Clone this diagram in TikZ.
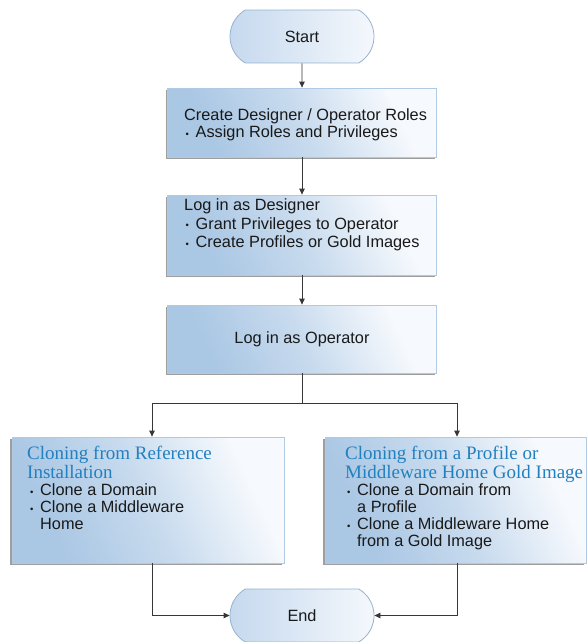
\documentclass[tikz,border=0pt]{standalone}
\usepackage{fontspec}
\setmainfont{Liberation Sans}
\newfontfamily\headfont{Liberation Serif}
\usetikzlibrary{arrows.meta,shapes.misc,shadows}

\definecolor{boxdark}{RGB}{170,199,228}
\definecolor{boxlight}{RGB}{246,249,253}
\definecolor{boxedge}{RGB}{176,202,228}
\definecolor{termdark}{RGB}{196,216,238}
\definecolor{termlight}{RGB}{246,249,253}
\definecolor{termedge}{RGB}{150,178,206}
\definecolor{headblue}{RGB}{35,128,190}
\definecolor{ink}{RGB}{25,25,25}
\definecolor{wire}{RGB}{55,55,55}

% soft fill of the step boxes: blue at the lower left fading to near white
\pgfdeclarehorizontalshading{stepfade}{100bp}{%
  color(0bp)=(boxdark); color(28bp)=(boxdark); color(50bp)=(boxdark!60!boxlight);
  color(72bp)=(boxlight); color(100bp)=(boxlight)}

% small list bullet followed by the indent of the item text
\newcommand{\itembul}{\makebox[11.5pt][l]{\hspace{1.5pt}\raisebox{0.8pt}{\fontsize{9.5}{9.5}\selectfont\textbullet}}}

\tikzset{
  stepbox/.style={draw=boxedge, line width=0.8pt, inner sep=0pt,
    shading=stepfade, shading angle=25,
    general shadow={shadow xshift=-1.6pt, shadow yshift=-1.6pt, fill=black!38}},
  termbox/.style={rounded rectangle, rounded rectangle arc length=120,
    draw=termedge, line width=0.8pt, left color=termdark, right color=termlight,
    minimum width=144pt, minimum height=53pt, inner sep=0pt,
    font=\fontsize{16.3}{18}\selectfont, text=ink},
  bodytext/.style={anchor=north west, inner sep=0pt, align=left, text=ink,
    font=\fontsize{16.3}{17}\selectfont},
  headtext/.style={anchor=north west, inner sep=0pt, align=left, text=headblue,
    font=\headfont\fontsize{19}{19}\selectfont},
  flow/.style={draw=wire, line width=0.8pt, -{Triangle[length=6pt,width=5.5pt]}},
  flowplain/.style={draw=wire, line width=0.8pt}
}

\begin{document}
\begin{tikzpicture}[x=1pt, y=-1pt]
\useasboundingbox (0,0) rectangle (588,642);

% terminals
\node[termbox] (start) at (302,36.5) {Start};
\node[termbox] (end) at (302,615.5) {End};

% main column of steps
\node[stepbox, minimum width=269pt, minimum height=69pt] (roles) at (302,122.5) {};
\node[bodytext] (rolestext) at (184,108.9)
  {Create Designer / Operator Roles\\\itembul Assign Roles and Privileges};

\node[stepbox, minimum width=269pt, minimum height=80pt] (designer) at (302,235) {};
\node[bodytext, font=\fontsize{16.3}{18.5}\selectfont] (designertext) at (184,198.9)
  {Log in as Designer\\\itembul Grant Privileges to Operator\\\itembul Create Profiles or Gold Images};

\node[stepbox, minimum width=269pt, minimum height=68pt,
      font=\fontsize{16.3}{18}\selectfont, text=ink] (operator) at (302,339) {Log in as Operator};

% the two cloning paths
\node[stepbox, minimum width=272pt, minimum height=126pt] (refclone) at (148,500) {};
\node[headtext] (refhead) at (27,446) {Cloning from Reference\\Installation};
\node[bodytext] (reftext) at (28.5,483.9)
  {\itembul Clone a Domain\\\itembul Clone a Middleware\\\hspace{11.5pt}Home};

\node[stepbox, minimum width=261pt, minimum height=126pt] (goldclone) at (455.5,500) {};
\node[headtext] (goldhead) at (345,446) {Cloning from a Profile or\\Middleware Home Gold Image};
\node[bodytext] (goldtext) at (345.5,483.9)
  {\itembul Clone a Domain from\\\hspace{11.5pt}a Profile\\\itembul Clone a Middleware Home\\\hspace{11.5pt}from a Gold Image};

% connectors
\coordinate (split) at (302,403);
\draw[flow] (start) -- (roles);
\draw[flow] (roles) -- (designer);
\draw[flow] (designer) -- (operator);
\draw[flowplain] (operator.south) -- (split);
\draw[flow] (split) -| ([xshift=4pt]refclone.north);
\draw[flow] (split) -| ([xshift=1.5pt]goldclone.north);
\draw[flow] ([xshift=4pt]refclone.south) |- (end.west);
\draw[flow] ([xshift=1.5pt]goldclone.south) |- (end.east);
\end{tikzpicture}
\end{document}
